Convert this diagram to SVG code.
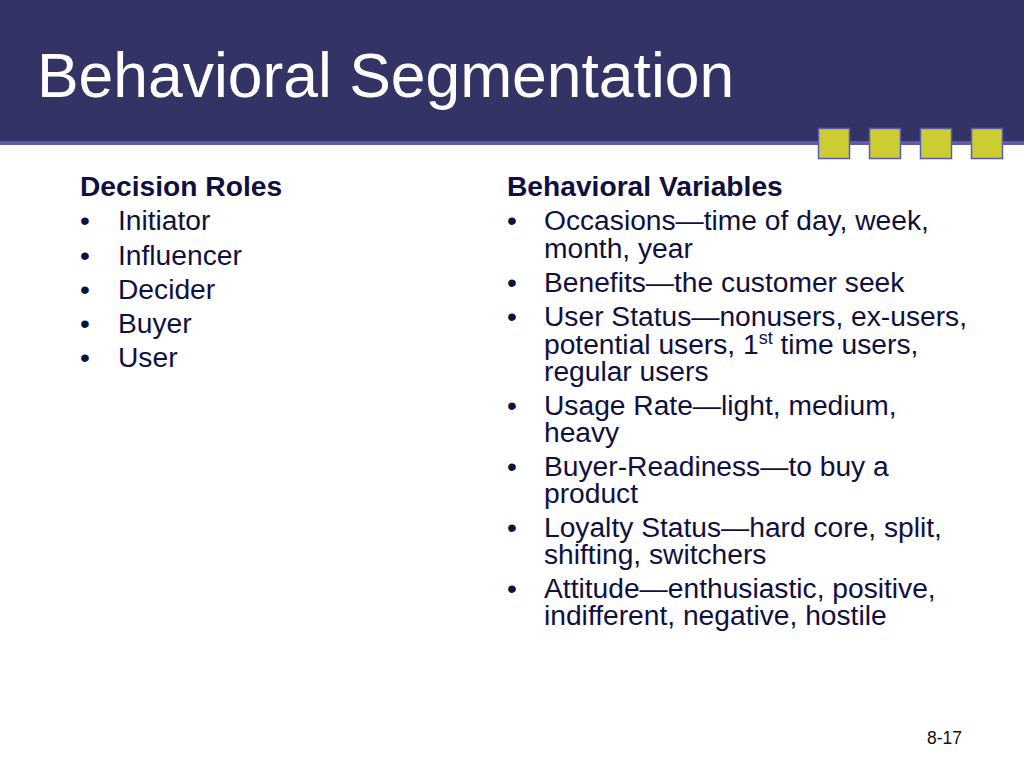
<svg xmlns="http://www.w3.org/2000/svg" width="1024" height="768" viewBox="0 0 1024 768">
<style>
text{font-family:"Liberation Sans",Arial,sans-serif;fill:#10103f}
.title{font-size:62.4px;fill:#ffffff}
.head{font-size:28.2px;font-weight:bold}
.item{font-size:28.2px}
.foot{font-size:17.5px;fill:#111}
.sq{fill:#cccc33;stroke:#5a5ab4;stroke-width:1.5}
</style>
<rect width="1024" height="768" fill="#ffffff"/>
<g id="header">
<rect x="0" y="0" width="1024" height="141" fill="#333366"/>
<rect x="0" y="141" width="1024" height="4" fill="#5c5ca6"/>
<text class="title" x="37" y="97">Behavioral Segmentation</text>
<rect class="sq" x="818.5" y="128.5" width="31" height="30"/>
<rect class="sq" x="869.5" y="128.5" width="31" height="30"/>
<rect class="sq" x="920.5" y="128.5" width="31" height="30"/>
<rect class="sq" x="971.5" y="128.5" width="31" height="30"/>
</g>
<g id="left">
<text class="head" x="80" y="196">Decision Roles</text>
<text class="item" x="80" y="230">•<tspan x="118">Initiator</tspan></text>
<text class="item" x="80" y="265">•<tspan x="118">Influencer</tspan></text>
<text class="item" x="80" y="299">•<tspan x="118">Decider</tspan></text>
<text class="item" x="80" y="333">•<tspan x="118">Buyer</tspan></text>
<text class="item" x="80" y="367">•<tspan x="118">User</tspan></text>
</g>
<g id="right">
<text class="head" x="507" y="196">Behavioral Variables</text>
<text class="item" x="507" y="230">•<tspan x="544">Occasions—time of day, week,</tspan><tspan x="544" y="258">month, year</tspan></text>
<text class="item" x="507" y="292">•<tspan x="544">Benefits—the customer seek</tspan></text>
<text class="item" x="507" y="326">•<tspan x="544">User Status—nonusers, ex-users,</tspan><tspan x="544" y="354">potential users, 1</tspan><tspan font-size="18" dy="-10">st</tspan><tspan dy="10"> time users,</tspan><tspan x="544" y="381">regular users</tspan></text>
<text class="item" x="507" y="415">•<tspan x="544">Usage Rate—light, medium,</tspan><tspan x="544" y="442">heavy</tspan></text>
<text class="item" x="507" y="476">•<tspan x="544">Buyer-Readiness—to buy a</tspan><tspan x="544" y="503">product</tspan></text>
<text class="item" x="507" y="537">•<tspan x="544">Loyalty Status—hard core, split,</tspan><tspan x="544" y="564">shifting, switchers</tspan></text>
<text class="item" x="507" y="598">•<tspan x="544">Attitude—enthusiastic, positive,</tspan><tspan x="544" y="625">indifferent, negative, hostile</tspan></text>
</g>
<g id="footer">
<text class="foot" x="927" y="744">8-17</text>
</g>
</svg>
